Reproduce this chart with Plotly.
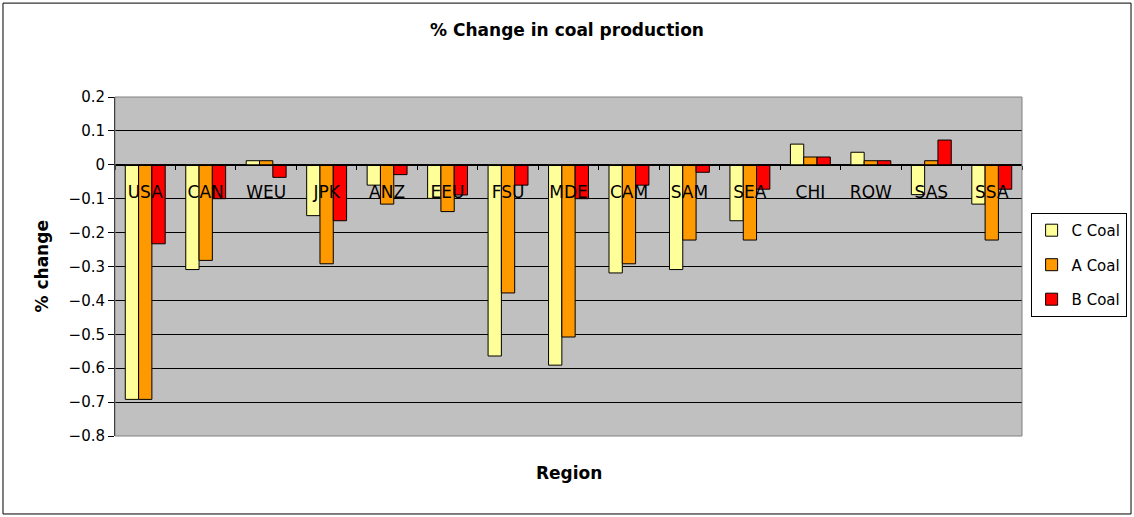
import plotly.graph_objects as go

# Regions and % change in coal production for the three cases
regions = ["USA", "CAN", "WEU", "JPK", "ANZ", "EEU", "FSU", "MDE",
           "CAM", "SAM", "SEA", "CHI", "ROW", "SAS", "SSA"]
c_coal = [-0.692, -0.309, 0.012, -0.150, -0.060, -0.099, -0.564, -0.591,
          -0.319, -0.309, -0.165, 0.061, 0.037, -0.088, -0.116]
a_coal = [-0.692, -0.282, 0.012, -0.292, -0.116, -0.138, -0.378, -0.508,
          -0.292, -0.222, -0.222, 0.023, 0.012, 0.012, -0.222]
b_coal = [-0.233, -0.100, -0.037, -0.165, -0.029, -0.089, -0.060, -0.100,
          -0.060, -0.022, -0.072, 0.023, 0.012, 0.073, -0.072]

series = [("C Coal", c_coal, "#FFFF99"),
          ("A Coal", a_coal, "#FF9900"),
          ("B Coal", b_coal, "#FF0000")]

FONT = "DejaVu Sans, Arial, sans-serif"

fig = go.Figure()
for name, vals, color in series:
    fig.add_trace(go.Bar(
        x=regions, y=vals, name=name, legendgroup=name,
        marker=dict(color=color, line=dict(color="black", width=1)),
    ))

fig.update_layout(
    width=1134, height=517,
    margin=dict(l=115, r=112, t=97, b=81, autoexpand=False),
    paper_bgcolor="white",
    plot_bgcolor="#C0C0C0",
    font=dict(family=FONT, size=15, color="black"),
    barmode="group", bargap=0.34, bargroupgap=0,
    showlegend=True,
    title=dict(text="<b>% Change in coal production</b>", x=0.5, xanchor="center",
               y=1 - 30 / 517, yanchor="middle", font=dict(size=17)),
    legend=dict(x=1.0095, y=0.658, xanchor="left", yanchor="top",
                bordercolor="black", borderwidth=1, bgcolor="white",
                traceorder="grouped", tracegroupgap=12,
                font=dict(size=15)),
    xaxis=dict(
        type="category", anchor="free", position=0.8,
        showline=True, linecolor="black", linewidth=1,
        ticks="outside", ticklen=4, tickcolor="black", tickson="boundaries",
        ticklabelstandoff=12,
        showgrid=False, zeroline=False,
        tickfont=dict(size=17),
    ),
    yaxis=dict(
        range=[-0.8, 0.2], dtick=0.1, tick0=0,
        showline=True, linecolor="black", linewidth=1,
        ticks="outside", ticklen=6, tickcolor="black",
        showgrid=True, gridcolor="black", gridwidth=1,
        zeroline=True, zerolinecolor="black", zerolinewidth=1,
        tickformat="~g", tickfont=dict(size=15),
    ),
    shapes=[
        # plot-area frame
        dict(type="rect", xref="paper", yref="paper", x0=0, x1=1, y0=0, y1=1,
             line=dict(color="#808080", width=1), layer="above"),
        # outer chart border
        dict(type="rect", xref="paper", yref="paper",
             x0=-0.1235, x1=1.1202, y0=-0.230, y1=1.277,
             line=dict(color="black", width=1)),
    ],
    annotations=[
        dict(text="<b>% change</b>", xref="paper", yref="paper",
             x=-0.0805, y=0.5, textangle=-90, showarrow=False,
             xanchor="center", yanchor="middle", font=dict(size=17)),
        dict(text="<b>Region</b>", xref="paper", yref="paper",
             x=0.5, y=-0.109, showarrow=False,
             xanchor="center", yanchor="middle", font=dict(size=17)),
    ],
)

fig.write_html("out.html")
